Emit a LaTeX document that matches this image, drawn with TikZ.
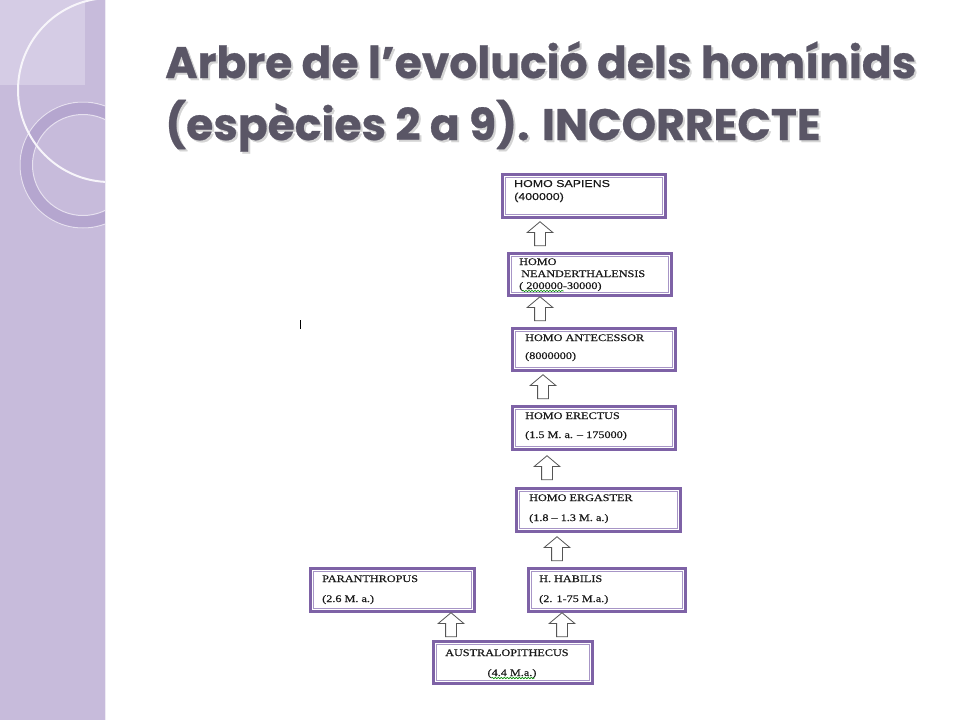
\documentclass[tikz,border=0pt]{standalone}
\usepackage{fontspec}
\setmainfont{Liberation Serif}[FakeStretch=1.22,FakeBold=0.4]
\newfontfamily\titlefont{Poppins}[FakeBold=0.6]
\newfontfamily\arialfont{Liberation Sans}[FakeStretch=1.24,FakeBold=0.3]
\usetikzlibrary{shapes.arrows,decorations.pathmorphing}
\definecolor{side}{HTML}{C7BBDB}
\definecolor{sidelight}{HTML}{D5CCE5}
\definecolor{ringc}{HTML}{B5A6CF}
\definecolor{boxpurple}{HTML}{7E62A6}
\definecolor{boxinner}{HTML}{A795C6}
\definecolor{titlec}{HTML}{5A5666}
\definecolor{titleshadow}{HTML}{D4D4D4}
\definecolor{arrowc}{HTML}{555555}
\newcommand{\shadowed}[1]{\rlap{\kern2pt\raisebox{-2pt}{\textcolor{titleshadow}{#1}}}\textcolor{titlec}{#1}}
\tikzset{
  box/.style={draw=boxpurple, line width=3pt, fill=white, outer sep=0pt, inner sep=0pt, anchor=north west},
  innerbox/.style={draw=boxinner, line width=0.8pt},
  lbl/.style={anchor=base west, inner sep=0pt, font=\fontsize{10}{12}\selectfont, text=black!90},
  albl/.style={anchor=base west, inner sep=0pt, font=\arialfont\fontsize{10}{12}\selectfont, text=black!90},
  uparrow/.style={single arrow, draw=arrowc, fill=white, line width=0.8pt, shape border rotate=90,
     minimum height=24pt, minimum width=25pt, inner sep=5pt, single arrow head extend=7.5pt,
     single arrow tip angle=100},
  titletext/.style={anchor=base west, inner sep=0pt, font=\titlefont\bfseries\fontsize{44}{50}\selectfont},
  squiggle/.style={draw=green!55!black, line width=0.6pt, decorate, decoration={snake, amplitude=0.7pt, segment length=3pt}}
}
\newcommand{\mkbox}[5]{%
  \node[box, minimum width=#4-#2-3, minimum height=#5-#3-3] (#1) at (#2+1.5,#3+1.5) {};
  \draw[innerbox] ([xshift=3pt,yshift=-3pt]#1.north west) rectangle ([xshift=-3pt,yshift=3pt]#1.south east);
}
\begin{document}
\begin{tikzpicture}[x=1pt,y=-1pt]
\useasboundingbox (0,0) rectangle (960,720);
\fill[white] (0,0) rectangle (960,720);
% sidebar
\begin{scope}
\clip (0,0) rectangle (105,720);
\fill[side] (0,0) rectangle (105,720);
\fill[sidelight] (0,0) rectangle (85,85);
\draw[ringc, line width=13pt] (83,165) circle (57pt);
\draw[white!55!side, line width=1pt] (83,165) circle (63pt);
\draw[white!55!side, line width=1pt] (83,165) circle (50.5pt);
\draw[white!85!side, line width=2pt] (110,90) circle (92pt);
\end{scope}
\draw[white!70!side, line width=1pt] (105,0) -- (105,720);
% title
\node[titletext] (t1) at (165,78) {\shadowed{Arbre de l’evolució dels homínids}};
\node[titletext] (t2) at (165,140) {\shadowed{(espècies 2 a 9). INCORRECTE}};
% boxes
\mkbox{b1}{501}{173}{667}{219}
\mkbox{b2}{507}{252}{673}{297}
\mkbox{b3}{511}{327}{677}{372}
\mkbox{b4}{511}{405}{677}{451}
\mkbox{b5}{515}{487}{682}{533}
\mkbox{b6}{527}{567}{687}{613}
\mkbox{b7}{309}{567}{476}{613}
\mkbox{b8}{432}{640}{594}{685}
% texts
\node[albl] (l1a) at (514,187) {HOMO SAPIENS};
\node[albl] (l1b) at (514,200) {(400000)};
\node[lbl] (l2a) at (519,265) {HOMO};
\node[lbl] (l2b) at (521,277) {NEANDERTHALENSIS};
\node[lbl] (l2c) at (519,289) {( 200000-30000)};
\node[lbl] (l3a) at (525,341) {HOMO ANTECESSOR};
\node[lbl] (l3b) at (525,359) {(8000000)};
\node[lbl] (l4a) at (525,419) {HOMO ERECTUS};
\node[lbl] (l4b) at (525,438) {(1.5 M. a. – 175000)};
\node[lbl] (l5a) at (529,501) {HOMO ERGASTER};
\node[lbl] (l5b) at (529,521) {(1.8 – 1.3 M. a.)};
\node[lbl] (l6a) at (539,582) {H. HABILIS};
\node[lbl] (l6b) at (539,602) {(2. 1-75 M.a.)};
\node[lbl] (l7a) at (322,582) {PARANTHROPUS};
\node[lbl] (l7b) at (322,602) {(2.6 M. a.)};
\node[lbl] (l8a) at (445,656) {AUSTRALOPITHECUS};
\node[lbl, anchor=base] (l8b) at (512,676) {(4.4 M.a.)};
\draw[squiggle] ([xshift=3pt,yshift=-2pt]l2c.base west) -- ([xshift=-38pt,yshift=-2pt]l2c.base east);
\draw[squiggle] ([xshift=4pt,yshift=-2pt]l8b.base west) -- ([xshift=-2pt,yshift=-2pt]l8b.base east);
% arrows
\node[uparrow] (a1) at (540,236) {};
\node[uparrow] (a2) at (540,311) {};
\node[uparrow] (a3) at (543,389) {};
\node[uparrow] (a4) at (547,470) {};
\node[uparrow] (a5) at (557,551) {};
\node[uparrow] (a6) at (451,627) {};
\node[uparrow] (a7) at (562,627) {};
% stray cursor mark
\fill[black] (299.5,320) rectangle (301,329);
\end{tikzpicture}
\end{document}
